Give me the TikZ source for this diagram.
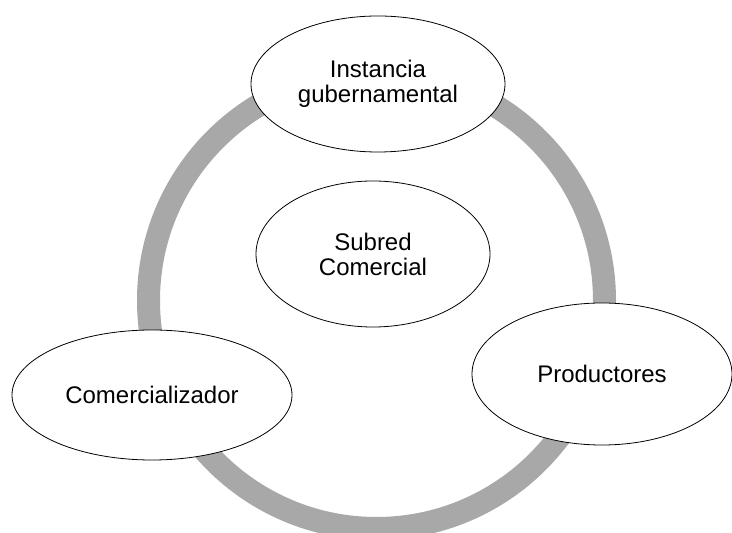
\documentclass[tikz,border=0pt]{standalone}
\usepackage{fontspec}
\setmainfont{Liberation Sans}
\usepackage{tikz}
\usetikzlibrary{shapes.geometric}

\begin{document}
\begin{tikzpicture}[x=1pt, y=1pt,
    every node/.style={font=\fontsize{24}{25}\selectfont},
    actor/.style={ellipse, draw=black, line width=0.8pt, fill=white, inner sep=0pt, align=center},
    ringline/.style={draw=black!34, line width=23pt}]
% Page frame
\useasboundingbox (0,0) rectangle (732,533);
\clip (0,0) rectangle (732,533);

% Grey ring behind the actors
\coordinate (ctr) at (376.5,232.5);
\draw[ringline] (ctr) circle (228);

% Actors on the ring
\node[actor, minimum width=254pt, minimum height=136pt] (gob) at (378,449) {Instancia\\gubernamental};
\node[actor, minimum width=280pt, minimum height=130pt] (com) at (152,138) {Comercializador};
\node[actor, minimum width=260pt, minimum height=142pt] (prod) at (602,159) {Productores};

% Centre
\node[actor, minimum width=234pt, minimum height=146pt] (sub) at (373,279) {Subred\\Comercial};

\end{tikzpicture}
\end{document}
